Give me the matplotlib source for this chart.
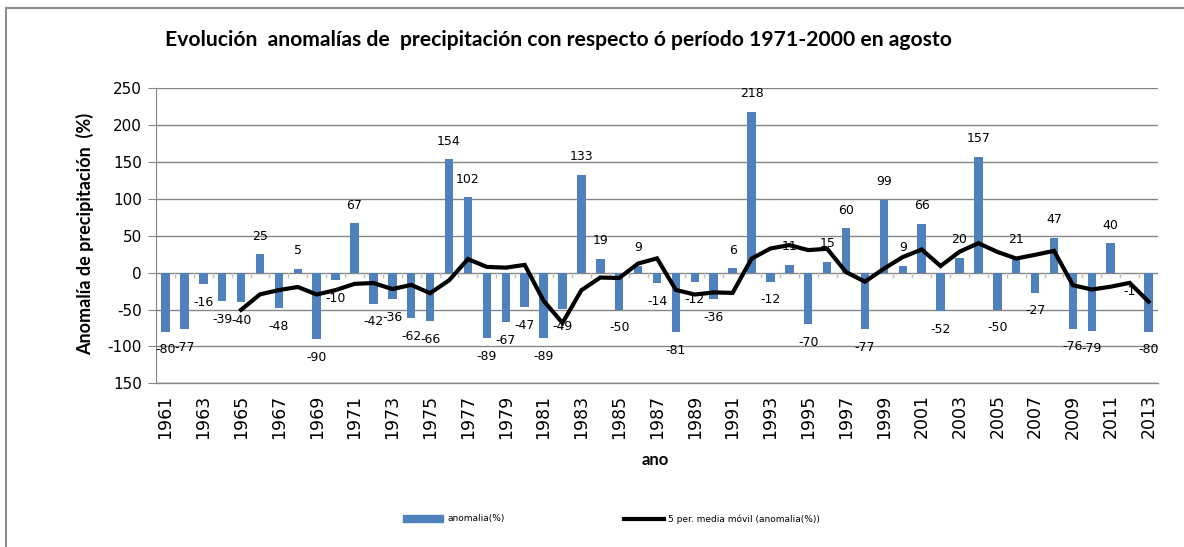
import numpy as np
import matplotlib.pyplot as plt
from matplotlib.lines import Line2D
from matplotlib.patches import Rectangle

# datos: anomalia de precipitacion en agosto (%), 1961-2013
years = list(range(1961, 2014))
anomalia = [-80, -77, -16, -39, -40, 25, -48, 5, -90, -10,
            67, -42, -36, -62, -66, 154, 102, -89, -67, -47,
            -89, -49, 133, 19, -50, 9, -14, -81, -12, -36,
            6, 218, -12, 11, -70, 15, 60, -77, 99, 9,
            66, -52, 20, 157, -50, 21, -27, 47, -76, -79,
            40, -1, -80]
# media movil de 5 periodos (1965-2013)
mm_years = list(range(1965, 2014))
media_movil = [-50.4, -29.4, -23.6, -19.4, -29.6, -23.6, -15.2, -14.0, -22.2, -16.6,
               -27.8, -10.4, 18.4, 7.8, 6.8, 10.6, -38.0, -68.2, -23.8, -6.6,
               -7.2, 12.4, 19.4, -23.4, -29.6, -26.8, -27.4, 19.0, 32.8, 37.4,
               30.6, 32.4, 0.8, -12.2, 5.4, 21.2, 31.4, 9.0, 28.4, 40.0,
               28.2, 19.2, 24.2, 29.6, -17.0, -22.8, -19.0, -13.8, -39.2]
yticks = [-150, -100, -50, 0, 50, 100, 150, 200, 250]
ytick_labels = ['150', '-100', '-50', '0', '50', '100', '150', '200', '250']

bar_color = '#4F81BD'
grid_color = '#868686'

fig = plt.figure(figsize=(11.84, 5.47), dpi=100)
ax = fig.add_axes([156/1184, 1 - 383.3/547, (1158-156)/1184, (383.3-88.3)/547])

x = np.arange(len(years))
mx = np.array([years.index(y) for y in mm_years])

ax.bar(x, anomalia, width=0.45, color=bar_color, zorder=2)
ax.plot(mx, media_movil, color='black', lw=3, zorder=3, solid_joinstyle='miter')

for xi, v in zip(x, anomalia):
    off = 13 if v >= 0 else -13
    ax.annotate(str(v), (xi, v), xytext=(0, off), textcoords='offset points',
                ha='center', va='center', fontsize=9, zorder=4)

ax.set_xlim(-0.5, len(years) - 0.5)
ax.set_ylim(-150, 250)
ax.set_yticks(yticks)
ax.set_yticklabels(ytick_labels, fontsize=11)
ax.yaxis.grid(True, color=grid_color, lw=1)
ax.axhline(-150, color=grid_color, lw=1, clip_on=False, zorder=0)
ax.set_axisbelow(True)
for s in ['top', 'right', 'bottom']:
    ax.spines[s].set_visible(False)
ax.spines['left'].set_color(grid_color)
ax.tick_params(axis='y', length=6, color=grid_color, pad=4)

# ticks de categoria sobre la linea del cero
ax.set_xticks([])
for b in np.arange(-0.5, len(years), 1.0):
    ax.plot([b, b], [0, -6], color='#BFBFBF', lw=1, zorder=1)

# etiquetas de los anos (cada 2)
for xi, yr in zip(x[::2], years[::2]):
    ax.annotate(str(yr), (xi, -150), xytext=(0, -8), textcoords='offset points',
                rotation=90, ha='center', va='top', fontsize=12.5)

fig.text(655/1184, 1 - 460/547, 'ano', ha='center', va='center', fontsize=12,
         fontweight='bold', family='Lato')
fig.text(85/1184, 1 - 234/547, 'Anomalía de precipitación  (%)', rotation=90,
         ha='center', va='center', fontsize=13, fontweight='bold', family='Lato')
fig.text(165/1184, 1 - 40/547,
         'Evolución  anomalías de  precipitación con respecto ó período 1971-2000 en agosto',
         ha='left', va='center', fontsize=15.2, fontweight='bold', family='Lato')

# leyenda
leg_kw = dict(loc='center left', frameon=False, fontsize=6.5, handlelength=4.4,
              handletextpad=0.5, borderpad=0, borderaxespad=0)
leg1 = fig.legend([Rectangle((0, 0), 1, 1, color=bar_color)], ['anomalia(%)'],
                  bbox_to_anchor=(403/1184, 1 - 519/547), **leg_kw)
leg2 = fig.legend([Line2D([0], [0], color='black', lw=3)],
                  ['5 per. media móvil (anomalia(%))'],
                  bbox_to_anchor=(624/1184, 1 - 519/547), **leg_kw)

# borde del area del grafico
fig.patches.append(Rectangle((6/1184, -0.1), 1.2, 1 - 8/547 + 0.1,
                             transform=fig.transFigure, fill=False,
                             edgecolor='#8C8C8C', lw=1.5))

fig.savefig('out.png', dpi=100)
